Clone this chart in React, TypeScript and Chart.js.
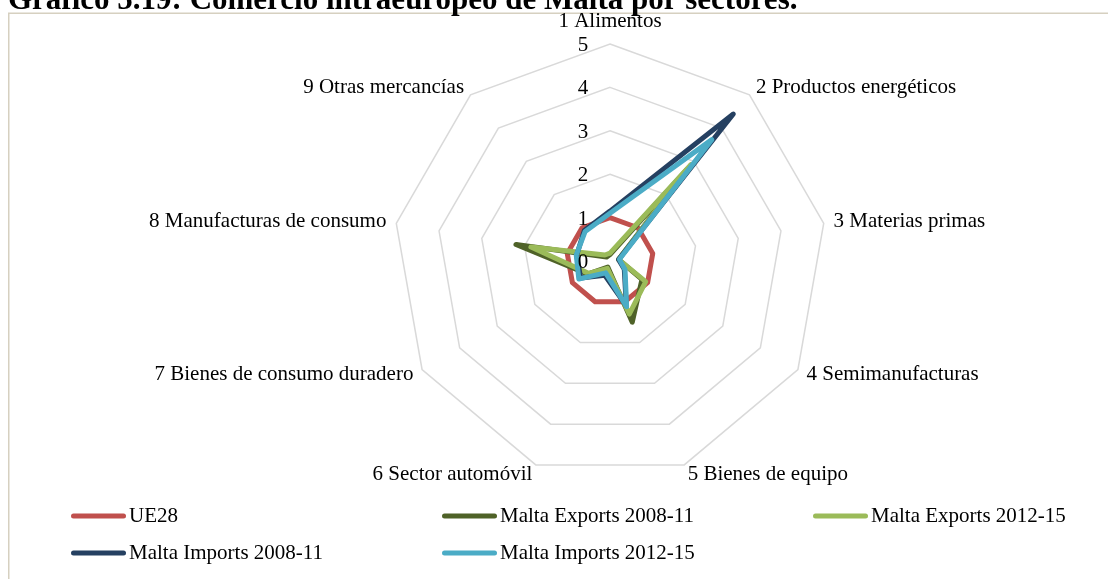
import React, { useEffect, useRef } from "react";
import { Chart, registerables } from "chart.js";

Chart.register(...registerables);

const titleText = "Gráfico 5.19: Comercio intraeuropeo de Malta por sectores.";

const categories = [
  "1 Alimentos",
  "2 Productos energéticos",
  "3 Materias primas",
  "4 Semimanufacturas",
  "5 Bienes de equipo",
  "6 Sector automóvil",
  "7 Bienes de consumo duradero",
  "8 Manufacturas de consumo",
  "9 Otras mercancías",
];

const seriesNames = [
  "UE28",
  "Malta Exports 2008-11",
  "Malta Exports 2012-15",
  "Malta Imports 2008-11",
  "Malta Imports 2012-15",
];

const ue28 = [1, 1, 1, 1, 1, 1, 1, 1, 1];
const exports0811 = [0.15, 2.75, 0.2, 0.85, 1.5, 0.15, 0.6, 2.2, 0.12];
const exports1215 = [0.18, 2.9, 0.2, 0.95, 1.3, 0.18, 0.57, 1.85, 0.18];
const imports0811 = [1.15, 4.42, 0.2, 0.38, 1.1, 0.35, 0.78, 0.78, 0.92];
const imports1215 = [1.1, 3.65, 0.22, 0.4, 1.12, 0.29, 0.83, 0.79, 0.89];

const tickValues = [0, 1, 2, 3, 4, 5];

const seriesColors = ["#C0504D", "#4F6228", "#9BBB59", "#254061", "#4BACC6"];

const FONT = '"Liberation Serif", "Times New Roman", serif';

export default function App() {
  const canvasRef = useRef<HTMLCanvasElement>(null);

  useEffect(() => {
    const canvas = canvasRef.current;
    if (!canvas) return;

    const decor = {
      id: "decor",
      beforeDraw(chart: any) {
        const ctx = chart.ctx;
        ctx.save();
        ctx.fillStyle = "#ffffff";
        ctx.fillRect(0, 0, chart.width, chart.height);
        ctx.strokeStyle = "#d6d0c0";
        ctx.lineWidth = 1.5;
        ctx.strokeRect(8.75, 13.25, 1300, 800);
        ctx.fillStyle = "#000000";
        ctx.font = `bold 31px ${FONT}`;
        ctx.textAlign = "left";
        ctx.textBaseline = "alphabetic";
        ctx.fillText(titleText, 8, 9);
        ctx.restore();
      },
      afterDatasetsDraw(chart: any) {
        const ctx = chart.ctx;
        const scale = chart.scales.r;
        ctx.save();
        ctx.fillStyle = "#000000";
        ctx.font = `21px ${FONT}`;
        // tick labels
        ctx.textAlign = "center";
        ctx.textBaseline = "middle";
        tickValues.forEach((v) => {
          const d = scale.getDistanceFromCenterForValue(v);
          ctx.fillText(String(v), scale.xCenter - 27, scale.yCenter - d + 1.5);
        });
        // point labels
        const n = categories.length;
        categories.forEach((label, i) => {
          const p = scale.getPointPosition(i, scale.drawingArea + 10);
          const angle = (i * 360) / n;
          if (angle === 0) {
            ctx.textAlign = "center";
            ctx.fillText(label, p.x, p.y - 13);
          } else if (angle < 180) {
            ctx.textAlign = "left";
            ctx.fillText(label, p.x, p.y);
          } else {
            ctx.textAlign = "right";
            ctx.fillText(label, p.x, p.y);
          }
        });
        // legend
        const cols = [71, 442, 813];
        const rows = [516, 553];
        seriesNames.forEach((name, i) => {
          const x = cols[i % 3];
          const y = rows[Math.floor(i / 3)];
          ctx.strokeStyle = seriesColors[i];
          ctx.lineWidth = 5;
          ctx.lineCap = "round";
          ctx.beginPath();
          ctx.moveTo(x + 2.5, y);
          ctx.lineTo(x + 52.5, y);
          ctx.stroke();
          ctx.textAlign = "left";
          ctx.fillText(name, x + 58, y);
        });
        ctx.restore();
      },
    };

    const seriesData = [ue28, exports0811, exports1215, imports0811, imports1215];
    const orders = [5, 4, 3, 2, 1];

    const chart = new Chart(canvas, {
      type: "radar",
      data: {
        labels: categories,
        datasets: seriesNames.map((name, i) => ({
          label: name,
          data: seriesData[i],
          borderColor: seriesColors[i],
          backgroundColor: "rgba(0,0,0,0)",
          borderWidth: 5,
          borderJoinStyle: "round",
          borderCapStyle: "round",
          fill: false,
          tension: 0,
          pointRadius: 0,
          pointHoverRadius: 0,
          order: orders[i],
        })),
      },
      options: {
        responsive: false,
        animation: false,
        layout: { padding: { left: 176, right: 64, top: 44, bottom: 101 } },
        plugins: {
          legend: { display: false },
          title: { display: false },
          tooltip: { enabled: false },
        },
        scales: {
          r: {
            min: 0,
            max: 5,
            ticks: { stepSize: 1, display: false },
            grid: { color: "#d9d9d9", lineWidth: 1.5 },
            angleLines: { display: false },
            pointLabels: { display: false },
          },
        },
      } as any,
      plugins: [decor],
    });

    return () => chart.destroy();
  }, []);

  return (
    <div style={{ position: "fixed", left: 0, top: 0, width: 1108, height: 579, background: "#fff" }}>
      <canvas ref={canvasRef} width={1108} height={579} style={{ display: "block", width: 1108, height: 579 }} />
    </div>
  );
}
